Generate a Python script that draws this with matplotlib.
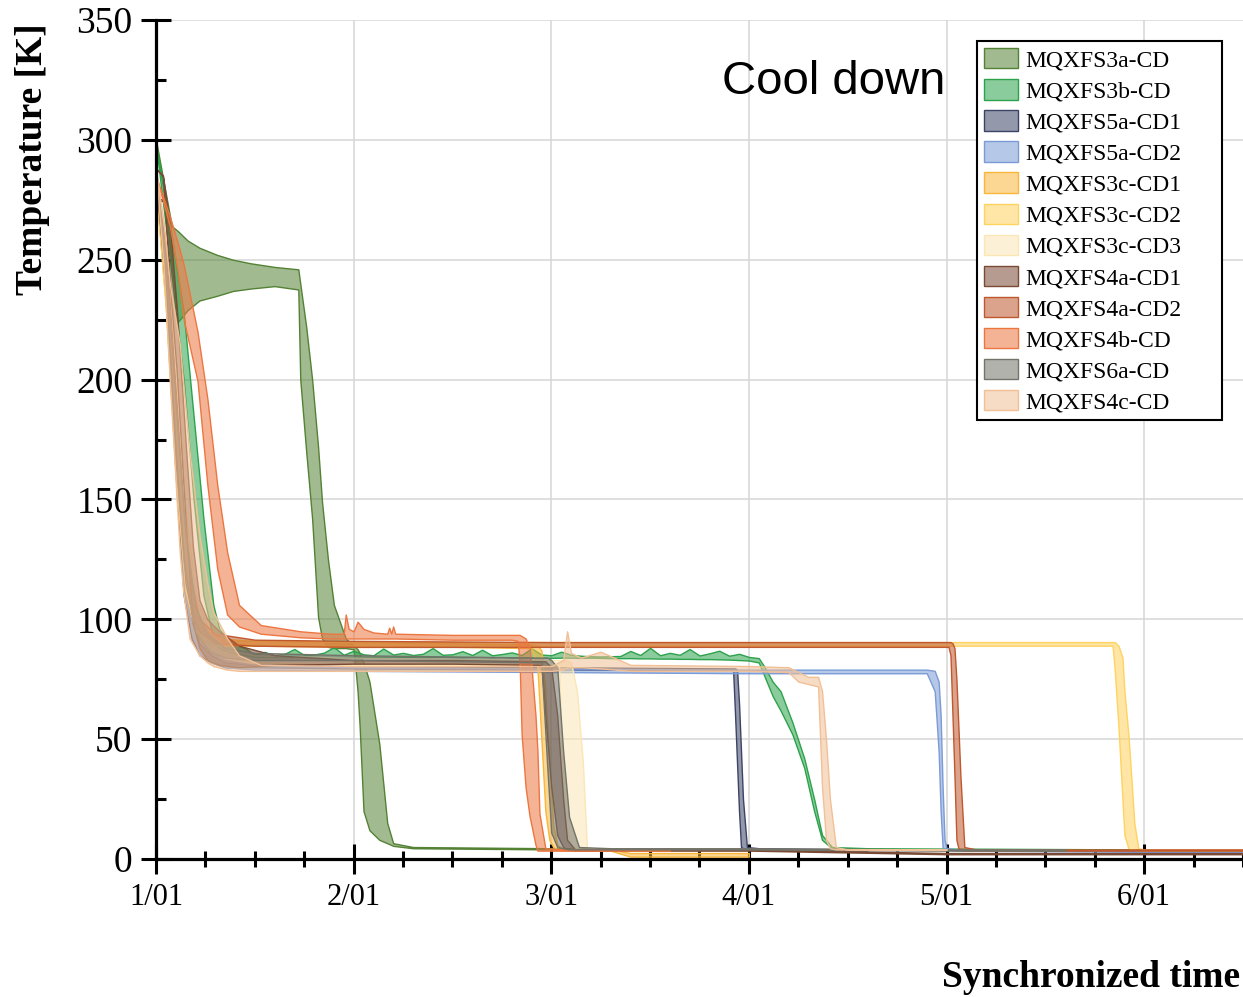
import matplotlib
matplotlib.use('Agg')
import matplotlib.pyplot as plt
from matplotlib.colors import to_rgba
from matplotlib.ticker import MultipleLocator

# ---- data (days since 1/01, temperature band in K: lo / hi) ----
names = ['MQXFS3a-CD', 'MQXFS3b-CD', 'MQXFS5a-CD1', 'MQXFS5a-CD2', 'MQXFS3c-CD1', 'MQXFS3c-CD2',
         'MQXFS3c-CD3', 'MQXFS4a-CD1', 'MQXFS4a-CD2', 'MQXFS4b-CD', 'MQXFS6a-CD', 'MQXFS4c-CD']
colors = ['#548235', '#2ca24c', '#3b4466', '#7b9bd6', '#f9b63a', '#ffd35f',
          '#fbe7b5', '#7a4a35', '#c0582e', '#ed7640', '#73736a', '#f2c096']

t_3a = [0, 0.04, 0.08, 0.11, 0.16, 0.22, 0.31, 0.39, 0.48, 0.60, 0.72, 0.73, 0.76, 0.79, 0.82,
        0.84, 0.87, 0.90, 0.96, 1.00, 1.02, 1.03, 1.05, 1.08, 1.13, 1.17, 1.20, 1.30, 2.00, 2.90]
hi_3a = [300, 282, 264, 262, 258, 255, 252, 250, 248.5, 247, 246, 240, 222, 200, 172,
         149, 125, 106, 92, 89, 87.5, 86, 82, 74, 48, 15, 6.6, 5, 4.5, 4]
lo_3a = [300, 278, 248, 224, 229, 233, 235, 237, 238, 239, 237.6, 200, 170, 142, 101,
         92, 88.5, 88, 88, 87.5, 70, 56, 20, 12, 8, 6.6, 5.5, 4.5, 4, 4]

t_3b = [0, 0.07, 0.14, 0.19, 0.24, 0.29, 0.32, 0.38, 0.45,
        0.50, 0.55, 0.60, 0.65, 0.70, 0.75, 0.80, 0.85, 0.90, 0.95, 1.00, 1.05, 1.10,
        1.15, 1.20, 1.25, 1.30, 1.35, 1.40, 1.45, 1.50, 1.55, 1.60, 1.65, 1.70, 1.75,
        1.80, 1.85, 1.90, 1.95, 2.00, 2.05, 2.10, 2.15, 2.20, 2.25, 2.30, 2.35, 2.40,
        2.45, 2.50, 2.55, 2.60, 2.65, 2.70, 2.75, 2.80, 2.85, 2.90, 2.95, 3.00, 3.05,
        3.08, 3.12, 3.16, 3.22, 3.28, 3.33, 3.37, 3.42, 3.60, 5.00]
hi_3b = [298, 265, 228, 185, 142, 106, 96, 90, 88,
         85.2, 86.4, 85.0, 85.6, 87.6, 85.1, 85.3, 86.1, 88.4, 85.2,
         86.9, 85.4, 85.0, 87.8, 85.3, 86.0, 85.1, 85.6, 88.0, 85.2,
         85.4, 86.7, 85.1, 87.3, 85.0, 85.5, 86.2, 85.1, 87.9, 85.3,
         85.0, 86.5, 85.2, 84.8, 84.6, 84.5, 84.6, 84.7, 86.8, 85.1,
         88.1, 85.0, 86.0, 85.2, 87.6, 84.9, 85.8, 86.9, 84.8, 85.6,
         84.3, 83.8,
         80, 74, 70, 57, 42, 25, 10, 5, 4.5, 4]
lo_3b = [298, 250, 200, 150, 110, 92, 88, 86, 85,
         84.2, 84.3, 84.2, 84.1, 84.2, 84.3, 84.2, 84.1, 84.2, 84.2, 84.1, 84.2, 84.3,
         84.2, 84.1, 84.2, 84.2, 84.1, 84.2, 84.3, 84.2, 84.1, 84.2, 84.2, 84.1, 84.2,
         84.0, 84.1, 84.0, 84.0, 83.9, 84.0, 84.0, 83.9, 84.0, 83.9, 83.8, 83.8, 83.8,
         83.7, 83.7, 83.6, 83.6, 83.5, 83.5, 83.4, 83.4, 83.3, 83.2, 83.0, 82.8, 82.0,
         76, 68, 62, 52, 38, 20, 8, 4.5, 4, 3.5]

t_5a1 = [0, 0.05, 0.10, 0.14, 0.18, 0.22, 0.28, 0.35, 0.5, 1.0, 2.0, 2.92, 2.93, 2.94,
         2.95, 2.96, 2.97, 2.99, 3.05, 3.60]
hi_5a1 = [285, 250, 190, 130, 100, 90, 85, 82, 81, 80.5, 80, 79.5, 79.5, 79,
          65, 45, 25, 5, 4.5, 4]
lo_5a1 = [285, 235, 160, 110, 92, 85, 82, 80, 80, 79.5, 79, 79, 60, 40,
          20, 5, 4.5, 4, 4, 3.5]

t_5a2 = [0, 0.05, 0.10, 0.14, 0.18, 0.22, 0.28, 0.35, 0.5, 1.0, 2.0, 3.0, 3.5, 3.9,
         3.94, 3.96, 3.97, 3.98, 3.99, 4.0, 4.05, 5.0, 5.5]
hi_5a2 = [285, 255, 200, 140, 105, 92, 86, 83, 81, 80, 79.5, 79, 79, 79,
          78.5, 74, 60, 30, 8, 4.5, 4, 3.5, 3.5]
lo_5a2 = [285, 240, 170, 115, 95, 86, 82, 80, 79, 78.5, 78, 77.5, 77.5, 77.5,
          70, 45, 20, 5, 4, 4, 3.5, 3, 3]

t_3c1 = [0, 0.05, 0.10, 0.15, 0.20, 0.25, 0.32, 0.5, 1.0, 1.5, 1.90, 1.93, 1.95, 1.97,
         1.99, 2.01, 2.03, 2.06, 2.30, 2.40, 3.00]
hi_3c1 = [280, 245, 185, 130, 102, 94, 91.5, 91, 90.5, 90, 89.5, 89, 87, 70,
          40, 14, 6, 4, 4, 2.5, 2.5]
lo_3c1 = [280, 230, 160, 112, 95, 90, 89, 89, 88.5, 88.5, 88, 80, 50, 20,
          8, 5, 4, 3.5, 3.5, 1, 1]

t_3c2 = [0, 0.05, 0.10, 0.15, 0.20, 0.25, 0.32, 0.5, 1.0, 2.0, 3.0, 4.0, 4.5, 4.84,
         4.85, 4.87, 4.89, 4.90, 4.92, 4.93, 4.95, 4.97, 5.0, 5.5]
hi_3c2 = [280, 245, 185, 130, 102, 95, 92, 91, 90.5, 90.5, 90.5, 90.5, 90.5, 90.5,
          90.5, 89, 84, 70, 52, 40, 15, 4.5, 4, 4]
lo_3c2 = [280, 230, 160, 112, 95, 90, 89.5, 89.5, 89, 89, 89, 89, 89, 89,
          80, 55, 25, 10, 4.5, 4, 4, 3.5, 3.5, 3.5]

t_3c3 = [0, 0.05, 0.10, 0.15, 0.20, 0.27, 0.35, 0.5, 1.0, 1.5, 2.0, 2.04, 2.05, 2.07,
         2.10, 2.13, 2.16, 2.18, 2.25, 2.60]
hi_3c3 = [285, 255, 200, 145, 110, 95, 88, 85, 84, 83.5, 83, 83, 83, 83,
          82, 70, 40, 5, 4, 4]
lo_3c3 = [285, 240, 175, 125, 100, 88, 84, 82, 81, 81, 81, 80, 50, 15,
          5, 4.5, 4, 4, 3.5, 3.5]

t_4a1 = [0, 0.035, 0.07, 0.105, 0.157, 0.187, 0.22, 0.26, 0.32, 0.42, 0.6, 1.0, 1.5, 1.95,
         1.97, 2.0, 2.03, 2.06, 2.08, 2.12, 3.0, 4.0, 5.5]
hi_4a1 = [288, 285, 265, 230, 165, 130, 108, 100, 95, 89, 85, 83, 83, 82.5,
          82.5, 80, 60, 25, 8, 4, 4, 2.5, 2.5]
lo_4a1 = [288, 285, 240, 203, 131, 98, 88, 83, 81, 80, 81, 81.5, 81.5, 81,
          60, 30, 10, 5, 4, 3.5, 3.5, 2, 2]

t_4a2 = [0, 0.05, 0.10, 0.14, 0.18, 0.22, 0.30, 0.5, 1.0, 2.0, 3.0, 4.01, 4.02, 4.03,
         4.04, 4.05, 4.06, 4.07, 4.09, 4.15, 5.5]
hi_4a2 = [282, 255, 195, 145, 115, 100, 94, 91.5, 91, 90.5, 90.5, 90.5, 90.5, 90,
          88, 75, 55, 35, 5, 4, 4]
lo_4a2 = [282, 240, 170, 125, 102, 95, 90, 89, 88.5, 88.5, 88.5, 88.5, 85, 60,
          35, 8, 4.5, 4, 3.5, 3.5, 3.5]

t_4b = [0, 0.07, 0.11, 0.14, 0.21, 0.26, 0.31, 0.36, 0.42, 0.53, 0.73, 0.88, 0.95, 0.96,
        0.975, 1.0, 1.02, 1.05, 1.1, 1.17, 1.18, 1.19, 1.2, 1.21, 1.5, 1.8, 1.83, 1.84,
        1.85, 1.87, 1.89, 1.9, 1.92, 1.93, 1.94, 1.97, 2.05, 2.6]
hi_4b = [285, 268, 257, 248, 220, 192, 156, 128, 106, 97.6, 95, 94, 94, 102,
         96, 95, 99, 96, 94.5, 94, 96.5, 94, 97, 94, 93.5, 93.5, 93.5, 93.5,
         93, 92, 88, 80, 60, 45, 19, 4.5, 4, 4]
lo_4b = [285, 264, 245, 225, 199.5, 156, 121, 102, 97, 94, 92.5, 92, 92, 92,
         92, 92, 92, 92, 92, 92, 92, 92, 92, 92, 91.5, 91.5, 91, 82,
         52, 30, 18, 14, 6, 3.5, 3.5, 3.5, 3.5, 3.5]

t_6a = [0, 0.05, 0.10, 0.15, 0.20, 0.26, 0.35, 0.5, 1.0, 1.5, 1.95, 1.98, 2.0, 2.03,
        2.06, 2.09, 2.14, 2.3, 3.0, 4.0, 4.6]
hi_6a = [285, 250, 190, 135, 105, 94, 88, 86, 85, 84.5, 84, 84, 83, 80,
         45, 17.6, 5, 4.5, 4.5, 4, 4]
lo_6a = [285, 235, 165, 115, 95, 87, 84, 83, 83, 82.5, 82, 38, 11, 5,
         4.5, 4, 4, 4, 4, 3.5, 3.5]

t_4c = [0, 0.04, 0.07, 0.12, 0.137, 0.17, 0.22, 0.26, 0.29, 0.36, 0.42, 0.53, 1.0, 1.5,
        2.0, 2.06, 2.08, 2.10, 2.15, 2.25, 2.4, 3.0, 3.2, 3.25, 3.3, 3.35, 3.37, 3.39,
        3.41, 3.44, 3.5, 4.0]
hi_4c = [288, 265, 240, 215, 199.5, 170, 135, 115, 103, 92, 85, 81, 80.5, 80.5,
         80.5, 83, 95, 86, 84, 86.5, 81, 80.5, 80, 78, 76, 76, 70, 50,
         25, 5, 4, 4]
lo_4c = [288, 245, 199, 128, 112, 92, 85, 82, 80.5, 79, 78.5, 78.5, 78.5, 78.5,
         78.5, 79, 80, 80, 80, 79.5, 78.5, 78.5, 78, 74, 73, 72, 30, 8,
         4.5, 4, 4, 4]

bands = [(t_3a, lo_3a, hi_3a), (t_3b, lo_3b, hi_3b), (t_5a1, lo_5a1, hi_5a1),
         (t_5a2, lo_5a2, hi_5a2), (t_3c1, lo_3c1, hi_3c1), (t_3c2, lo_3c2, hi_3c2),
         (t_3c3, lo_3c3, hi_3c3), (t_4a1, lo_4a1, hi_4a1), (t_4a2, lo_4a2, hi_4a2),
         (t_4b, lo_4b, hi_4b), (t_6a, lo_6a, hi_6a), (t_4c, lo_4c, hi_4c)]

day_labels = ['1/01', '2/01', '3/01', '4/01', '5/01', '6/01']

# ---- figure ----
fig = plt.figure(figsize=(12.43, 9.97), dpi=100)
ax = fig.add_axes([0.1255, 0.1384, 0.8745, 0.8415])

for name, c, (t, lo, hi) in zip(names, colors, bands):
    ax.fill_between(t, lo, hi, facecolor=to_rgba(c, 0.55), edgecolor=c, linewidth=1.0, label=name)

ax.set_xlim(0, 5.5)
ax.set_ylim(0, 350)
ax.set_xticks(range(len(day_labels)))
ax.set_xticklabels(day_labels)
ax.xaxis.set_minor_locator(MultipleLocator(0.25))
ax.yaxis.set_major_locator(MultipleLocator(50))
ax.yaxis.set_minor_locator(MultipleLocator(25))
ax.grid(True, which='major', color='#d6d6d6', linewidth=1.1)
ax.set_axisbelow(True)

for s in ['top', 'right']:
    ax.spines[s].set_visible(False)
for s in ['left', 'bottom']:
    ax.spines[s].set_linewidth(2.3)
    ax.spines[s].set_color('black')

ax.tick_params(axis='x', which='major', direction='inout', length=21, width=2.2, pad=7)
ax.tick_params(axis='x', which='minor', direction='inout', length=11, width=2.2)
ax.tick_params(axis='y', which='major', direction='inout', length=22, width=2.2, pad=6)
ax.tick_params(axis='y', which='minor', direction='in', length=7, width=2.2)
for lab in ax.get_xticklabels():
    lab.set_fontfamily('Liberation Serif')
    lab.set_fontsize(22)
for lab in ax.get_yticklabels():
    lab.set_fontfamily('Liberation Serif')
    lab.set_fontsize(27)

ax.text(2.863, 324, 'Cool down', fontsize=34, fontfamily='Liberation Sans', va='center', ha='left')

leg = ax.legend(loc='upper left', bbox_to_anchor=(0.7553, 0.5, 0.2254, 0.475), mode='expand',
                borderaxespad=0, prop={'family': 'Liberation Serif', 'size': 17}, fancybox=False,
                frameon=True, handlelength=1.45, handleheight=0.95, labelspacing=0.33,
                handletextpad=0.3, borderpad=0.3)
leg.get_frame().set_edgecolor('black')
leg.get_frame().set_linewidth(1.5)
leg.get_frame().set_alpha(1)

fig.text(0.026, 0.84, 'Temperature [K]', rotation=90, ha='center', va='center',
         fontsize=27, fontweight='bold', fontfamily='Liberation Serif')
fig.text(0.998, 0.002, 'Synchronized time', ha='right', va='bottom',
         fontsize=27, fontweight='bold', fontfamily='Liberation Serif')

fig.savefig('out.png', dpi=100)
